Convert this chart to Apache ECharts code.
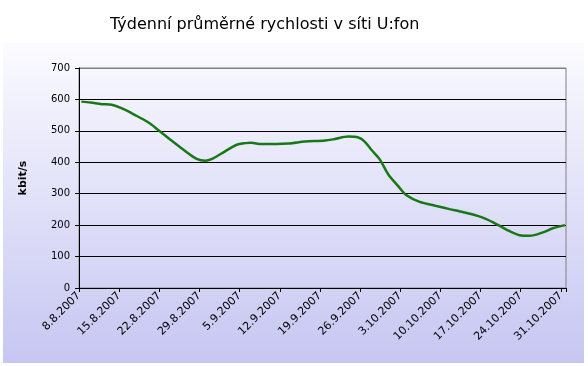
<!DOCTYPE html>
<html><head><meta charset="utf-8">
<script src="https://cdn.jsdelivr.net/npm/echarts@6/dist/echarts.min.js"></script>
<style>html,body{margin:0;padding:0;background:#fff}#c{width:588px;height:366px}</style>
</head><body><div id="c"></div>
<script>
var tickLabels = ['8.8.2007','15.8.2007','22.8.2007','29.8.2007','5.9.2007','12.9.2007','19.9.2007','26.9.2007','3.10.2007','10.10.2007','17.10.2007','24.10.2007','31.10.2007'];
// days since 8.8.2007
var days = [0.4,2,4,5.7,7.4,9.7,12,13.8,16,18.5,20.5,22,23.1,25.4,27.4,29,30,31.8,36.5,39.4,42.9,44.6,46.9,48.7,49.8,51,52.4,53.9,55.6,57.1,59.4,62.3,64.6,67,69.9,72.2,74.5,76.8,78.6,80.9,82.6,84.7];
var speeds = [593,590,585,583,572,551,528,503,471,436,411,405,410,434,455,461,462,458,460,466,469,474,482,479,466,439,410,362,325,295,274,261,251,241,227,209,186,168,166,177,190,200];

var chart = echarts.init(document.getElementById('c'));
var font = 'DejaVu Sans, Verdana, sans-serif';
chart.setOption({
  animation: false,
  backgroundColor: '#ffffff',
  graphic: [{
    type: 'rect', left: 3, top: 43, z: -10,
    shape: {width: 581, height: 320},
    style: {fill: new echarts.graphic.LinearGradient(0,0,0,1,[{offset:0,color:'#fbfbff'},{offset:1,color:'#c6c6f2'}])}
  }],
  title: {
    text: 'Týdenní průměrné rychlosti v síti U:fon',
    left: 105, top: 12,
    textStyle: {fontFamily: font, fontSize: 16, fontWeight: 'normal', color: '#000'}
  },
  grid: {left: 79, right: 22, top: 68, bottom: 78, show: true, borderColor: '#808080', borderWidth: 1, backgroundColor: 'transparent'},
  xAxis: {
    type: 'value', min: 0, max: 84.9, interval: 7,
    axisLine: {lineStyle: {color: '#000', width: 1}},
    axisTick: {length: 4, lineStyle: {color: '#000'}},
    splitLine: {show: false},
    axisLabel: {
      rotate: 45, fontFamily: font, fontSize: 11, color: '#000', margin: 6,
      formatter: function(v){ var i = Math.round(v/7); return (Math.abs(v - i*7) < 0.01 && tickLabels[i]) ? tickLabels[i] : ''; }
    }
  },
  yAxis: {
    type: 'value', min: 0, max: 700, interval: 100,
    name: 'kbit/s', nameLocation: 'middle', nameGap: 50,
    nameTextStyle: {fontFamily: font, fontSize: 11, fontWeight: 'bold', color: '#000'},
    axisLine: {show: true, lineStyle: {color: '#000', width: 1}},
    axisTick: {show: true, length: 4, lineStyle: {color: '#000'}},
    splitLine: {lineStyle: {color: ['#000','#000','#000','#000','#000','#000','#000','#808080'], width: 1}},
    axisLabel: {fontFamily: font, fontSize: 10, color: '#000', margin: 9}
  },
  series: [{
    type: 'line',
    data: days.map(function(d,i){ return [d, speeds[i]]; }),
    showSymbol: false, smooth: 0.3,
    lineStyle: {color: '#187818', width: 2.5}
  }]
});
</script></body></html>
